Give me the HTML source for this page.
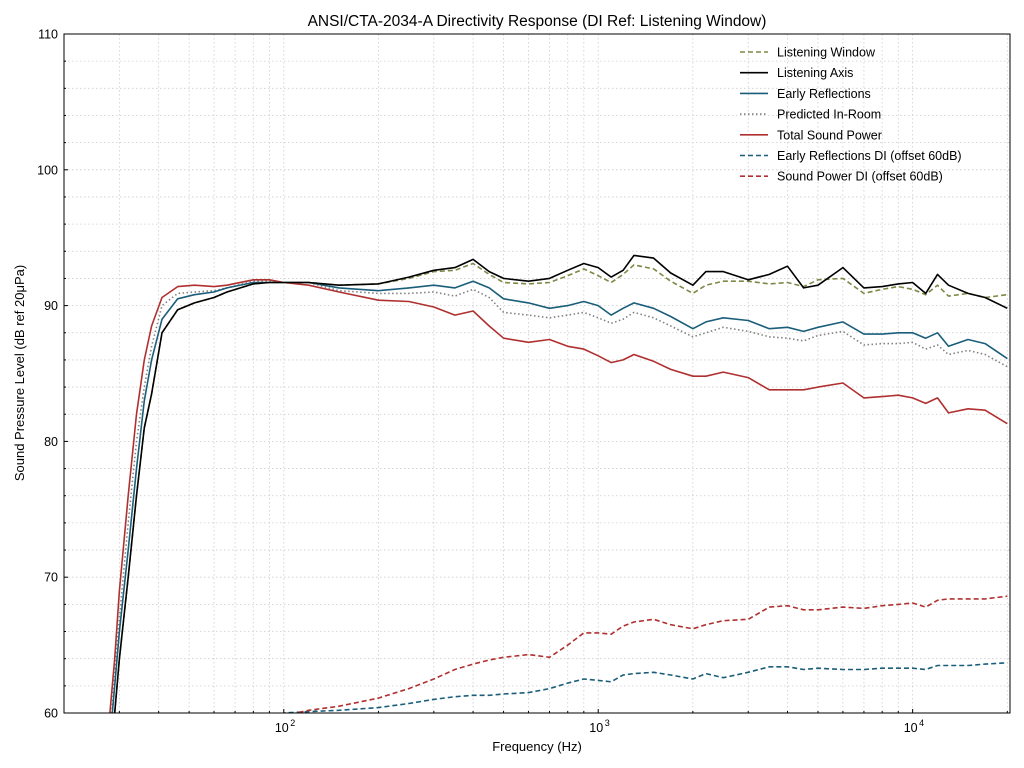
<!DOCTYPE html>
<html><head><meta charset="utf-8">
<style>
html,body{margin:0;padding:0;background:#fff;overflow:hidden;width:1024px;height:768px;}
svg{display:block;font-family:"Liberation Sans","DejaVu Sans",sans-serif;overflow:hidden;}
</style></head>
<body>
<svg id="chart" width="1024" height="768" xmlns="http://www.w3.org/2000/svg">
<text x="537" y="26" text-anchor="middle" font-size="15.5" fill="#000">ANSI/CTA-2034-A Directivity Response (DI Ref: Listening Window)</text>
<text x="537" y="751" text-anchor="middle" font-size="13" fill="#000">Frequency (Hz)</text>
<text transform="translate(24,373) rotate(-90)" text-anchor="middle" font-size="13" fill="#000">Sound Pressure Level (dB ref 20μPa)</text>
<g id="grid"></g>
<defs><clipPath id="clip"><rect x="64" y="34" width="946" height="679"/></clipPath></defs>
<g id="series" clip-path="url(#clip)"></g>
<g id="axes"></g>
<g id="legend"></g>
</svg>
<script>
const freqs=[27,28,29,30,32,34,36,38,41,46,52,60,66,80,90,100,120,150,200,250,300,350,400,450,500,600,700,800,900,1000,1100,1200,1300,1500,1700,2000,2200,2500,3000,3500,4000,4500,5000,6000,7000,8000,9000,10000,11000,12000,13000,15000,17000,20000];
const listeningWindow=[45,52,60,64,70,76,81,83.5,88,89.7,90.2,90.6,91,91.6,91.7,91.7,91.7,91.5,91.6,92.0,92.5,92.6,93.1,92.3,91.7,91.6,91.7,92.2,92.7,92.2,91.7,92.3,93.0,92.7,91.8,90.9,91.5,91.8,91.8,91.6,91.7,91.4,91.9,92.0,90.9,91.2,91.4,91.2,90.8,91.5,90.7,90.9,90.6,90.8];
const listeningAxis=[45,52,60,64,70,76,81,83.5,88,89.7,90.2,90.6,91,91.6,91.7,91.7,91.7,91.5,91.6,92.1,92.6,92.8,93.4,92.5,92,91.8,92,92.6,93.1,92.8,92.1,92.6,93.7,93.5,92.4,91.5,92.5,92.5,91.9,92.3,92.9,91.3,91.5,92.8,91.3,91.4,91.6,91.7,90.9,92.3,91.5,90.9,90.6,89.8];
const earlyReflections=[48,55,62,66,72,78,83,86,89,90.5,90.8,91,91.3,91.7,91.7,91.7,91.7,91.3,91.1,91.3,91.5,91.3,91.8,91.3,90.5,90.2,89.8,90,90.3,90,89.3,89.8,90.2,89.8,89.2,88.3,88.8,89.1,88.9,88.3,88.4,88.1,88.4,88.8,87.9,87.9,88,88,87.6,88,87,87.5,87.2,86.1];
const predictedInRoom=[50,57,63,67,74,80,84,87,90,90.9,91,91.1,91.3,91.8,91.8,91.7,91.7,91.1,90.9,90.9,91,90.7,91.2,90.6,89.5,89.3,89.1,89.3,89.5,89.1,88.7,89,89.5,89.1,88.5,87.7,88,88.4,88.1,87.7,87.6,87.4,87.8,88.1,87.1,87.2,87.2,87.3,86.8,87.1,86.4,86.7,86.4,85.5];
const totalSoundPower=[56,60,64,69,76,82,86,88.5,90.6,91.4,91.5,91.4,91.5,91.9,91.9,91.7,91.5,91,90.4,90.3,89.9,89.3,89.6,88.5,87.6,87.3,87.5,87,86.8,86.3,85.8,86,86.4,85.9,85.3,84.8,84.8,85.1,84.7,83.8,83.8,83.8,84,84.3,83.2,83.3,83.4,83.2,82.8,83.2,82.1,82.4,82.3,81.3];
const earlyReflectionsDI=[50,50,50,50,50,50,50,50,50,50,50,50,50,50,50,60,60.1,60.2,60.4,60.7,61,61.2,61.3,61.3,61.4,61.5,61.8,62.2,62.5,62.4,62.3,62.8,62.9,63,62.8,62.5,62.9,62.6,63,63.4,63.4,63.2,63.3,63.2,63.2,63.3,63.3,63.3,63.2,63.5,63.5,63.5,63.6,63.7];
const soundPowerDI=[50,50,50,50,50,50,50,50,50,50,50,50,50,50,50,59.8,60.2,60.5,61.1,61.8,62.5,63.2,63.6,63.9,64.1,64.3,64.1,65.0,65.9,65.9,65.8,66.4,66.7,66.9,66.5,66.2,66.5,66.8,66.9,67.8,67.9,67.6,67.6,67.8,67.7,67.9,68,68.1,67.8,68.3,68.4,68.4,68.4,68.6];
const yTicks=[60,70,80,90,100,110];
const xTickLabels=["2","3","4"];

const NS="http://www.w3.org/2000/svg";
const L=64,R=1010,T=34,B=713;
const xmin=Math.log10(20),xmax=Math.log10(20400);
const X=f=>L+(Math.log10(f)-xmin)/(xmax-xmin)*(R-L);
const Y=v=>B-(v-60)/(110-60)*(B-T);
function mk(tag,attrs,parent){const e=document.createElementNS(NS,tag);for(const k in attrs)e.setAttribute(k,attrs[k]);parent.appendChild(e);return e;}
const grid=document.getElementById('grid'),axes=document.getElementById('axes'),ser=document.getElementById('series'),leg=document.getElementById('legend');

for(let v=60;v<=110;v+=2){
  const y=Y(v);
  const g=mk('line',{x1:L,x2:R,y1:y,y2:y,stroke:'#cccccc','stroke-width':0.8,'stroke-dasharray':'1.5,2.5'},grid);
  
  
  const major=v%10===0;
  const t=mk('line',{x1:L,x2:L+(major?4:2),y1:y,y2:y,stroke:'#000','stroke-width':1},axes);
  
  
}
for(let d=1;d<=4;d++){for(let m=1;m<=9;m++){
  const f=m*Math.pow(10,d); if(f<20||f>20400)continue;
  const x=X(f);
  const g=mk('line',{x1:x,x2:x,y1:T,y2:B,stroke:'#cccccc','stroke-width':0.8,'stroke-dasharray':'1.5,2.5'},grid);
  
  
  const major=m===1;
  const t=mk('line',{x1:x,x2:x,y1:B,y2:B-(major?4:2),stroke:'#000','stroke-width':1},axes);
  
  
}}
yTicks.forEach(v=>{
  const t=mk('text',{x:L-6,y:Y(v)+4.5,'text-anchor':'end','font-size':12.5,fill:'#000'},axes);
  t.textContent=v;
  
  
});
xTickLabels.forEach(e=>{
  const x=X(Math.pow(10,+e));
  const t=mk('text',{x:x-2,y:B+19,'text-anchor':'middle','font-size':12.5,fill:'#000'},axes);
  t.textContent='10';
  
  
  const s=mk('text',{x:x+9,y:B+13,'text-anchor':'middle','font-size':9,fill:'#000'},axes);
  s.textContent=e;
  
  
});
const frame=mk('rect',{x:L,y:T,width:R-L,height:B-T,fill:'none',stroke:'#000','stroke-width':1},axes);



const series=[
 {name:'Listening Window',data:listeningWindow,color:'#7a8a45',dash:'5,3',w:1.6,key:'listening-window-line'},
 {name:'Listening Axis',data:listeningAxis,color:'#000000',dash:'',w:1.6,key:'listening-axis-line'},
 {name:'Early Reflections',data:earlyReflections,color:'#1a5e7a',dash:'',w:1.6,key:'early-reflections-line'},
 {name:'Predicted In-Room',data:predictedInRoom,color:'#808080',dash:'1.5,2.5',w:1.6,key:'predicted-in-room-line'},
 {name:'Total Sound Power',data:totalSoundPower,color:'#b03030',dash:'',w:1.6,key:'total-sound-power-line'},
 {name:'Early Reflections DI (offset 60dB)',data:earlyReflectionsDI,color:'#1a5e7a',dash:'5,3',w:1.6,key:'early-reflections-di-line'},
 {name:'Sound Power DI (offset 60dB)',data:soundPowerDI,color:'#b03030',dash:'5,3',w:1.6,key:'sound-power-di-line'}
];
const order=[3,2,4,5,6,0,1];
order.forEach(i=>{
  const s=series[i];
  const n=Math.min(freqs.length,s.data.length);
  let d='';
  for(let k=0;k<n;k++){
    const yv=Y(Math.max(s.data[k],58));
    d+=(k?'L':'M')+X(freqs[k]).toFixed(1)+','+yv.toFixed(1);
  }
  const p=mk('path',{d:d,fill:'none',stroke:s.color,'stroke-width':s.w,'stroke-dasharray':s.dash,'stroke-linejoin':'round'},ser);
  
  
});
series.forEach((s,i)=>{
  const y=52+i*20.7;
  const g=mk('g',{},leg);
  
  
  mk('line',{x1:740,x2:768,y1:y,y2:y,stroke:s.color,'stroke-width':1.6,'stroke-dasharray':s.dash},g);
  const t=mk('text',{x:777,y:y+4.5,'font-size':12.5,fill:'#000'},g);
  t.textContent=s.name;
});
</script>
</body></html>
